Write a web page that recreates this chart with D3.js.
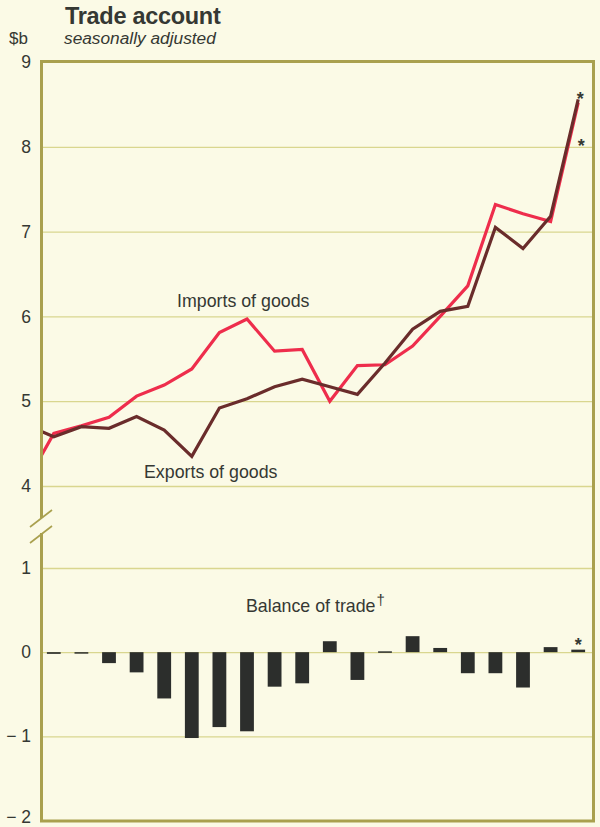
<!DOCTYPE html>
<html>
<head>
<meta charset="utf-8">
<script src="https://cdn.jsdelivr.net/npm/d3@7"></script>
<style>
  body { margin: 0; background: #fbfae6; }
  text { font-family: "Liberation Sans", Arial, sans-serif; fill: #353833; }
</style>
</head>
<body>
<div id="chart"></div>
<script>
/**
 * DATA
 * */
const quarters = ["q1", "q2", "q3", "q4", "q5", "q6", "q7", "q8", "q9", "q10",
  "q11", "q12", "q13", "q14", "q15", "q16", "q17", "q18", "q19", "q20"];

// values where the lines enter at the left edge of the frame
const importsStart = 4.33;
const exportsStart = 4.65;

const imports = [4.62, 4.71, 4.81, 5.06, 5.19, 5.38, 5.81, 5.97, 5.59, 5.61,
  5.00, 5.42, 5.43, 5.65, 6.00, 6.36, 7.32, 7.21, 7.12, 8.52];
const exports = [4.58, 4.70, 4.68, 4.82, 4.66, 4.35, 4.92, 5.03, 5.17, 5.26,
  5.17, 5.08, 5.45, 5.85, 6.06, 6.12, 7.05, 6.80, 7.18, 8.56];
const balance = [-0.02, -0.01, -0.13, -0.24, -0.55, -1.02, -0.89, -0.94, -0.41, -0.37,
  0.13, -0.33, 0.01, 0.19, 0.05, -0.25, -0.25, -0.42, 0.06, 0.03];

const topTicks = [9, 8, 7, 6, 5, 4];
const bottomTicks = [1, 0, -1, -2];

/**
 * CONSTANTS
 * */
const width = 600, height = 827;
const frame = { left: 41.5, right: 593.5, top: 61.5, bottom: 821 };

const colors = {
  frame: "#a9a04e",
  grid: "#d9d68f",
  imports: "#ee2d4c",
  exports: "#6a2c2b",
  bar: "#2c2e2c"
};

const svg = d3.select("#chart")
  .append("svg")
  .attr("width", width)
  .attr("height", height);

svg.append("rect")
  .attr("width", width)
  .attr("height", height)
  .attr("fill", "#fbfae6");

/**
 * SCALES
 * */
const x = d3.scaleBand()
  .domain(quarters)
  .range([40, 592])
  .paddingInner(0.5)
  .paddingOuter(0.25);

const xc = d => x(d) + x.bandwidth() / 2;

const yTop = d3.scaleLinear().domain([4, 9]).range([486, 62]);
const yBot = d3.scaleLinear().domain([-2, 1]).range([820.5, 568]);

/**
 * GRID
 * */
svg.append("g")
  .attr("transform", `translate(${frame.left},0)`)
  .call(d3.axisLeft(yTop).tickValues(topTicks.filter(d => d < 9))
    .tickSize(-(frame.right - frame.left)).tickFormat(""))
  .call(g => g.select(".domain").remove())
  .call(g => g.selectAll("line").attr("stroke", colors.grid).attr("stroke-width", 1.3));

svg.append("g")
  .attr("transform", `translate(${frame.left},0)`)
  .call(d3.axisLeft(yBot).tickValues(bottomTicks.filter(d => d > -2))
    .tickSize(-(frame.right - frame.left)).tickFormat(""))
  .call(g => g.select(".domain").remove())
  .call(g => g.selectAll("line").attr("stroke", colors.grid).attr("stroke-width", 1.3));

/**
 * TICK LABELS
 * */
const fmt = d => d < 0 ? "\u2212 " + Math.abs(d) : String(d);

[[yTop, topTicks], [yBot, bottomTicks]].forEach(([scale, ticks]) => {
  svg.append("g")
    .attr("transform", "translate(31,0)")
    .call(d3.axisLeft(scale).tickValues(ticks).tickSize(0).tickPadding(0).tickFormat(fmt))
    .call(g => g.select(".domain").remove())
    .call(g => g.selectAll("text")
      .style("font-family", "'Liberation Sans', Arial, sans-serif")
      .style("font-size", "17.5px")
      .attr("fill", "#353833")
      .attr("dy", d => d === -2 ? "0.12em" : "0.32em"));
});

/**
 * BARS
 * */
svg.append("g")
  .selectAll("rect")
  .data(balance)
  .join("rect")
  .attr("x", (d, i) => x(quarters[i]))
  .attr("width", x.bandwidth())
  .attr("y", d => yBot(Math.max(0, d)))
  .attr("height", d => Math.max(1.5, Math.abs(yBot(d) - yBot(0))))
  .attr("fill", colors.bar);

/**
 * LINES
 * */
svg.append("clipPath")
  .attr("id", "plot-clip")
  .append("rect")
  .attr("x", frame.left)
  .attr("y", frame.top)
  .attr("width", frame.right - frame.left)
  .attr("height", 486 - frame.top + 20);

const line = d3.line()
  .x(d => d.x)
  .y(d => yTop(d.v));

const toPoints = (start, values) =>
  [{ x: x.range()[0], v: start }].concat(values.map((v, i) => ({ x: xc(quarters[i]), v })));

svg.append("path")
  .datum(toPoints(importsStart, imports))
  .attr("clip-path", "url(#plot-clip)")
  .attr("d", line)
  .attr("fill", "none")
  .attr("stroke", colors.imports)
  .attr("stroke-width", 3.2)
  .attr("stroke-linejoin", "miter");

svg.append("path")
  .datum(toPoints(exportsStart, exports))
  .attr("clip-path", "url(#plot-clip)")
  .attr("d", line)
  .attr("fill", "none")
  .attr("stroke", colors.exports)
  .attr("stroke-width", 3.2)
  .attr("stroke-linejoin", "miter");

/**
 * FRAME (left side broken between the two scales)
 * */
const frameG = svg.append("g")
  .attr("stroke", colors.frame)
  .attr("stroke-width", 3)
  .attr("fill", "none");

frameG.append("path")
  .attr("d", `M${frame.left},518 V${frame.top} H${frame.right} V${frame.bottom} H${frame.left} V533`);

frameG.selectAll("line.break")
  .data([518, 534])
  .join("line")
  .attr("class", "break")
  .attr("x1", 30).attr("y1", d => d + 9)
  .attr("x2", 52).attr("y2", d => d - 8)
  .attr("stroke-width", 1.6);

/**
 * TEXT
 * */
svg.append("text")
  .attr("x", 65).attr("y", 24)
  .style("font-size", "23.5px")
  .style("font-weight", "bold")
  .style("letter-spacing", "-0.3px")
  .text("Trade account");

svg.append("text")
  .attr("x", 64).attr("y", 44)
  .style("font-size", "17.3px")
  .style("font-style", "italic")
  .text("seasonally adjusted");

svg.append("text")
  .attr("x", 9).attr("y", 44)
  .style("font-size", "17px")
  .text("$b");

svg.append("text")
  .attr("x", 177).attr("y", 307)
  .style("font-size", "17.8px")
  .text("Imports of goods");

svg.append("text")
  .attr("x", 144).attr("y", 478)
  .style("font-size", "17.8px")
  .text("Exports of goods");

const bal = svg.append("text")
  .attr("x", 246).attr("y", 612)
  .style("font-size", "17.8px")
  .text("Balance of trade");
bal.append("tspan")
  .attr("dy", -7)
  .attr("dx", 1)
  .style("font-size", "15px")
  .text("\u2020");

// notes marking the latest figures
const last = quarters.length - 1;
const star = (xPos, yPos) => svg.append("text")
  .attr("x", xPos).attr("y", yPos)
  .attr("text-anchor", "middle")
  .style("font-size", "18px")
  .style("font-weight", "bold")
  .text("*");

star(xc(quarters[last]) + 2, yTop(exports[last]) + 6);
star(xc(quarters[last]) + 3, yTop(imports[last]) + 49);
star(xc(quarters[last]), yBot(balance[last]) + 1);
</script>
</body>
</html>
